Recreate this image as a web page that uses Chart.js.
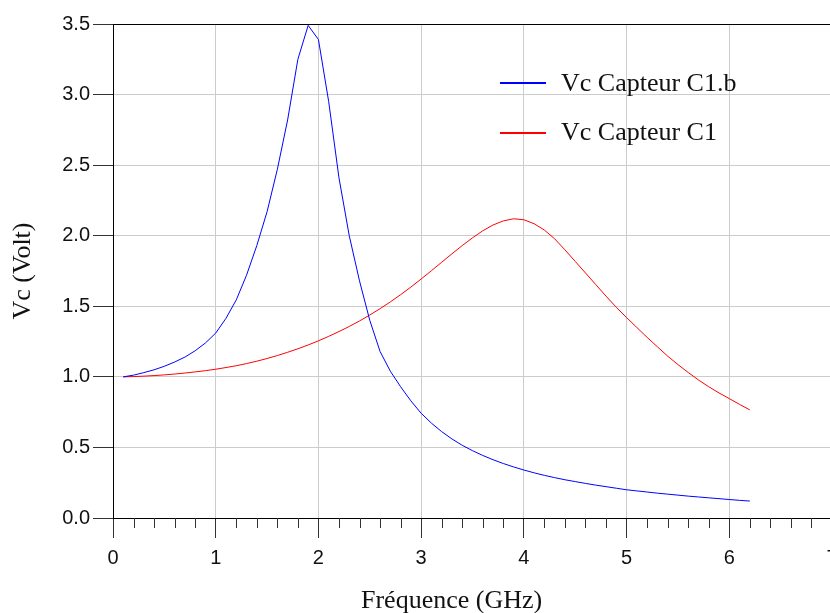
<!DOCTYPE html>
<html>
<head>
<meta charset="utf-8">
<script src="https://cdn.jsdelivr.net/npm/chart.js@4"></script>
<style>
  body { margin: 0; overflow: hidden; background: #fff; }
  #wrap { position: relative; width: 850px; height: 613px; }
  .leg { position: absolute; font: 26px "Liberation Serif", "Times New Roman", serif; line-height: 26px; color: #111; white-space: nowrap; }
  .sw { position: absolute; width: 46px; height: 0; }
</style>
</head>
<body>
<div id="wrap">
  <canvas id="chart" width="850" height="613"></canvas>
  <div class="sw" style="left:500px;top:82px;border-top:2px solid #0000ff"></div>
  <div class="leg" style="left:561px;top:70px">Vc Capteur C1.b</div>
  <div class="sw" style="left:500px;top:132px;border-top:2px solid #ff0000"></div>
  <div class="leg" style="left:561px;top:119px">Vc Capteur C1</div>
  <div class="leg" style="left:361px;top:587px">Fréquence (GHz)</div>
</div>
<script>
// fréquence en GHz
var freqs = [0.1, 0.2, 0.3, 0.4, 0.5, 0.6, 0.7, 0.8, 0.9, 1.0,
    1.1, 1.2, 1.3, 1.4, 1.5, 1.6, 1.7, 1.8, 1.9, 2.0,
    2.1, 2.2, 2.3, 2.4, 2.5, 2.6, 2.7, 2.8, 2.9, 3.0,
    3.1, 3.2, 3.3, 3.4, 3.5, 3.6, 3.7, 3.8, 3.9, 4.0,
    4.1, 4.2, 4.3, 4.4, 4.5, 4.6, 4.7, 4.8, 4.9, 5.0,
    5.1, 5.2, 5.3, 5.4, 5.5, 5.6, 5.7, 5.8, 5.9, 6.0,
    6.1, 6.2];

// Vc Capteur C1.b
var vcC1b = [1.00, 1.012, 1.03, 1.05, 1.075, 1.105, 1.14, 1.185, 1.24, 1.31,
    1.415, 1.545, 1.72, 1.93, 2.17, 2.47, 2.82, 3.25, 3.49, 3.39,
    2.95, 2.41, 2.00, 1.68, 1.40, 1.18, 1.04, 0.93, 0.83, 0.742,
    0.672, 0.612, 0.56, 0.515, 0.477, 0.443, 0.413, 0.386, 0.362, 0.34,
    0.32, 0.302, 0.286, 0.271, 0.258, 0.245, 0.233, 0.222, 0.211, 0.20,
    0.192, 0.184, 0.176, 0.169, 0.162, 0.155, 0.149, 0.143, 0.137, 0.131,
    0.125, 0.12];

// Vc Capteur C1
var vcC1 = [1.00, 1.002, 1.005, 1.009, 1.014, 1.02, 1.027, 1.035, 1.044, 1.054,
    1.066, 1.079, 1.094, 1.111, 1.13, 1.151, 1.174, 1.199, 1.226, 1.255,
    1.287, 1.321, 1.357, 1.396, 1.438, 1.483, 1.531, 1.582, 1.636, 1.693,
    1.752, 1.812, 1.872, 1.93, 1.985, 2.035, 2.076, 2.105, 2.12, 2.113,
    2.085, 2.04, 1.978, 1.90, 1.818, 1.736, 1.654, 1.572, 1.493, 1.42,
    1.35, 1.28, 1.213, 1.147, 1.087, 1.031, 0.978, 0.93, 0.886, 0.846,
    0.805, 0.766];

var xMin = 0, xMax = 7, xMinorStep = 0.2;
var yMin = 0, yMax = 3.5, yStep = 0.5;

function pts(ys) {
    return freqs.map(function(f, i) { return {x: f, y: ys[i]}; });
}

// petits traits tous les 0.2 GHz sous l'axe
var minorTicks = {
    id: 'minorTicks',
    afterDraw: function(chart) {
        var sx = chart.scales.x, ctx = chart.ctx, y0 = chart.chartArea.bottom;
        ctx.save();
        ctx.strokeStyle = '#333';
        ctx.lineWidth = 1;
        for (var k = 1; k * xMinorStep < xMax; k++) {
            if (k % 5 === 0) continue;
            var px = Math.round(sx.getPixelForValue(k * xMinorStep)) + 0.5;
            ctx.beginPath();
            ctx.moveTo(px, y0);
            ctx.lineTo(px, y0 + 10);
            ctx.stroke();
        }
        ctx.restore();
    }
};

var tickFont = {family: '"Liberation Sans", Arial, sans-serif', size: 20};
var titleFont = {family: '"Liberation Serif", "Times New Roman", serif', size: 26, lineHeight: 1.2};

new Chart(document.getElementById('chart'), {
    type: 'line',
    data: {
        datasets: [{
            label: 'Vc Capteur C1.b',
            data: pts(vcC1b),
            borderColor: '#0000ff',
            borderWidth: 1,
            pointRadius: 0,
            tension: 0
        }, {
            label: 'Vc Capteur C1',
            data: pts(vcC1),
            borderColor: '#ff0000',
            borderWidth: 1,
            pointRadius: 0,
            tension: 0
        }]
    },
    options: {
        responsive: false,
        animation: false,
        layout: {padding: {left: 0, top: 24, right: 18, bottom: 0}},
        plugins: {legend: {display: false}, tooltip: {enabled: false}},
        scales: {
            x: {
                type: 'linear',
                min: xMin,
                max: xMax,
                ticks: {stepSize: 1, color: '#111', font: tickFont, padding: 8, maxRotation: 0},
                grid: {color: '#cccccc', tickColor: '#333', tickLength: 20},
                border: {color: '#000', width: 1},
                afterFit: function(s) { s.height = 95; }
            },
            y: {
                min: yMin,
                max: yMax,
                ticks: {
                    stepSize: yStep, color: '#111', font: tickFont, padding: 3,
                    callback: function(v) { return v.toFixed(1); }
                },
                grid: {
                    color: function(c) { return c.tick && c.tick.value === yMax ? '#000' : '#cccccc'; },
                    tickColor: '#333',
                    tickLength: 20
                },
                border: {color: '#000', width: 1},
                title: {display: true, text: 'Vc (Volt)', color: '#111', font: titleFont, padding: {top: 8, bottom: 6}},
                afterFit: function(s) { s.width = 113; }
            }
        }
    },
    plugins: [minorTicks]
});
</script>
</body>
</html>
